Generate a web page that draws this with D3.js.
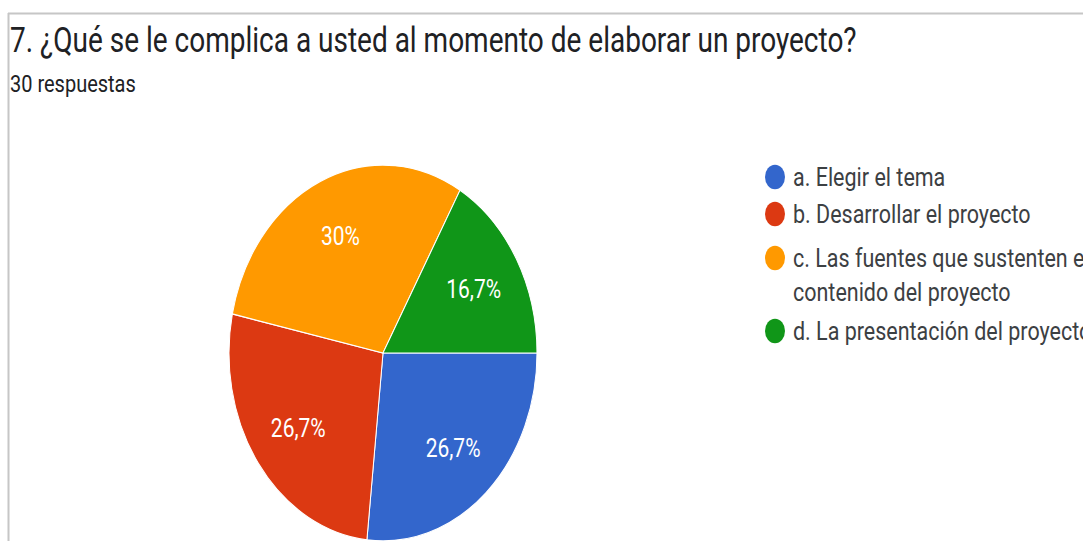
<!DOCTYPE html>
<html>
<head>
<meta charset="utf-8">
<script src="https://cdn.jsdelivr.net/npm/d3@7"></script>
<style>
  body { margin: 0; background: #fff; }
  svg { display: block; font-family: Roboto, Arial, sans-serif; }
</style>
</head>
<body>
<svg id="chart" width="1083" height="541"></svg>
<script>
// data (30 answers)
var title = "7. ¿Qué se le complica a usted al momento de elaborar un proyecto?"
var subtitle = "30 respuestas"
var categories = ["a. Elegir el tema", "b. Desarrollar el proyecto",
  "c. Las fuentes que sustenten el contenido del proyecto", "d. La presentación del proyecto"]
var legendLines = [["a. Elegir el tema"], ["b. Desarrollar el proyecto"],
  ["c. Las fuentes que sustenten el", "contenido del proyecto"], ["d. La presentación del proyecto"]]
var counts = [8, 8, 9, 5]
var colors = ["#3366cc", "#dc3912", "#ff9900", "#109618"]

var width = 1083, height = 541
// the screenshot is stretched vertically, so draw in a squashed space and scale y
var k = 1.22
var svg = d3.select('#chart')

// frame of the forms card
svg.append('line').attr('x1', 8).attr('x2', width).attr('y1', 13.5).attr('y2', 13.5)
  .style('stroke', '#c6c6c6').style('stroke-width', 2)
svg.append('line').attr('x1', 8.5).attr('x2', 8.5).attr('y1', 13).attr('y2', height)
  .style('stroke', '#c6c6c6').style('stroke-width', 2)

var g = svg.append('g').attr('transform', 'scale(1,' + k + ')')

g.append('text').attr('x', 10).attr('y', 52 / k)
  .style('font-size', '28px').style('fill', '#202124')
  .text(title)
g.append('text').attr('x', 10).attr('y', 92 / k)
  .style('font-size', '20px').style('fill', '#202124')
  .text(subtitle)

var total = d3.sum(counts)
var locale = d3.formatLocale({decimal: ",", thousands: ".", grouping: [3], currency: ["", "€"]})
var pct = locale.format(".1~%")

var r = 154
var cx = 383, cy = 353 / k

var pie = d3.pie().sort(null).startAngle(Math.PI / 2).endAngle(Math.PI / 2 + 2 * Math.PI)
var arcs = pie(counts)
var arc = d3.arc().innerRadius(0).outerRadius(r)
var labelArc = d3.arc().innerRadius(r * 0.68).outerRadius(r * 0.68)

var pieG = g.append('g').attr('transform', 'translate(' + cx + ',' + cy + ')')
pieG.selectAll('path')
  .data(arcs)
  .enter()
  .append('path')
  .attr('d', arc)
  .style('fill', function(d, i) { return colors[i] })
  .style('stroke', '#fff')
  .style('stroke-width', 1)

pieG.selectAll('text')
  .data(arcs)
  .enter()
  .append('text')
  .attr('transform', function(d) { return 'translate(' + labelArc.centroid(d) + ')' })
  .attr('dy', '0.35em')
  .style('text-anchor', 'middle')
  .style('font-size', '21px')
  .style('fill', '#fff')
  .text(function(d) { return pct(d.value / total) })

// legend
var rowY = [177, 214, 258, 331]
var legend = g.append('g')
var items = legend.selectAll('g')
  .data(categories)
  .enter()
  .append('g')
  .attr('transform', function(d, i) { return 'translate(775,' + rowY[i] / k + ')' })

items.append('circle')
  .attr('r', 10)
  .style('fill', function(d, i) { return colors[i] })

items.append('text')
  .attr('x', 18)
  .style('font-size', '21.5px')
  .style('fill', '#3c4043')
  .each(function(d, i) {
    var t = d3.select(this)
    legendLines[i].forEach(function(line, j) {
      t.append('tspan').attr('x', 18).attr('dy', j === 0 ? '0.35em' : (34 / k) + 'px').text(line)
    })
  })
</script>
</body>
</html>
